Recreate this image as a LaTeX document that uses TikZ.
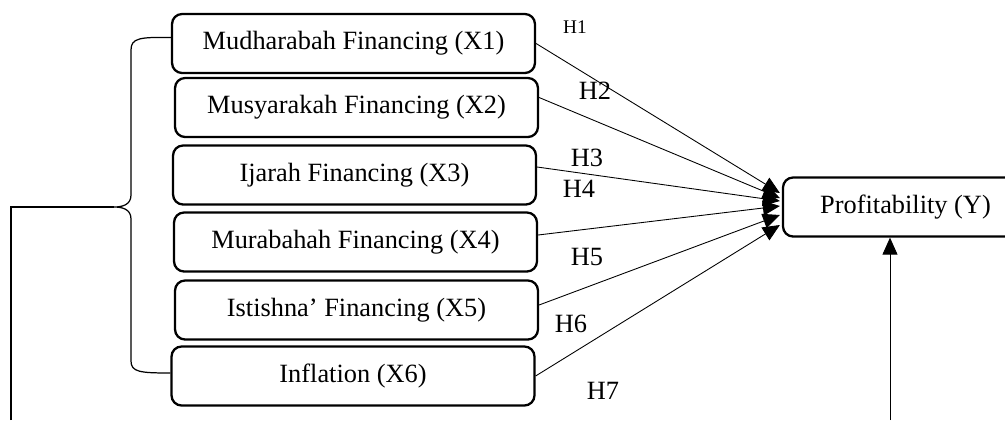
\documentclass[tikz,border=0pt]{standalone}
\usepackage{fontspec}
\setmainfont{Liberation Serif}
\usetikzlibrary{arrows.meta,calc}
\begin{document}
\begin{tikzpicture}[x=0.02cm,y=-0.02cm,
  varbox/.style={draw,line width=1.3pt,rounded corners=0.2cm,minimum width=7.26cm,minimum height=1.18cm,inner sep=0pt,font=\fontsize{15}{18}\selectfont},
  hyp/.style={inner sep=0pt,font=\fontsize{15}{18}\selectfont},
  path/.style={line width=0.5pt,-{Triangle[length=0.34cm,width=0.3cm]}}]
\useasboundingbox (0,0) rectangle (1005,420);

\node[varbox] (x1) at (353.5,43.5) {Mudharabah Financing (X1)};
\node[varbox] (x2) at (356.5,107.5) {Musyarakah Financing (X2)};
\node[varbox] (x3) at (354.5,175) {Ijarah Financing (X3)};
\node[varbox] (x4) at (355.5,242) {Murabahah Financing (X4)};
\node[varbox] (x5) at (356.5,310) {Istishna' Financing (X5)};
\node[varbox] (x6) at (353,376) {Inflation (X6)};
\node[varbox,minimum width=4.9cm] (y) at (905.5,207) {Profitability (Y)};

\node[hyp,font=\fontsize{11}{13}\selectfont] (h1) at (575,27) {H1};
\node[hyp] (h2) at (595,91) {H2};
\node[hyp] (h3) at (587,158) {H3};
\node[hyp] (h4) at (579,189) {H4};
\node[hyp] (h5) at (587,257) {H5};
\node[hyp] (h6) at (571,324) {H6};
\node[hyp] (h7) at (603,391) {H7};

\draw[path] (x1.east) -- ($(y.west)+(-2,-14)$);
\draw[path] ($(x2.east)+(0,-10)$) -- ($(y.west)+(-2,-9)$);
\draw[path] ($(x3.east)+(0,-8)$) -- ($(y.west)+(-2,-6)$);
\draw[path] ($(x4.east)+(0,-7)$) -- ($(y.west)+(-2,-1)$);
\draw[path] ($(x5.east)+(0,-5)$) -- ($(y.west)+(-2,8)$);
\draw[path] (x6.east) -- ($(y.west)+(-2,18)$);

\coordinate (tip) at (114,207);
\coordinate (low) at (11,420);
\coordinate (base) at (890,420);
\draw[line width=0.7pt] ($(x1.west)+(0,-6)$) .. controls (140,37) and (131,38) .. (131,50) -- (131,195)
  .. controls (131,205) and (122,207) .. (tip) .. controls (122,207) and (131,209) .. (131,219)
  -- (131,361) .. controls (131,372) and (140,373) .. ($(x6.west)+(0,-3)$);
\draw[line width=1.6pt] (92,207) -- (110,207);
\draw[line width=0.7pt] (low) |- (tip);
\draw[path] (base) -- (base |- y.south);
\end{tikzpicture}
\end{document}
